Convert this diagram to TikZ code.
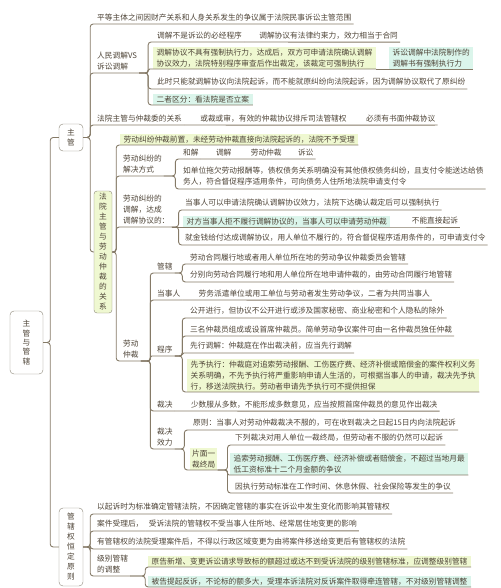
\documentclass[tikz,border=0pt]{standalone}
\usepackage{fontspec}
\setmainfont{Noto Sans CJK SC}
\usepackage{tikz}
\usetikzlibrary{positioning}
\definecolor{linegray}{HTML}{857A67}
\definecolor{inkbrown}{HTML}{4E4437}
\definecolor{softlime}{HTML}{EFF8D1}
\definecolor{softcyan}{HTML}{DBF5EB}
\definecolor{boxedge}{HTML}{8A8577}

\begin{document}
\begin{tikzpicture}[x=1pt, y=-1pt,
  every node/.style={font=\fontsize{7.7}{11}\selectfont, text=inkbrown},
  topic/.style={anchor=south west, inner xsep=2pt, inner ysep=3pt, align=left},
  limebox/.style={anchor=south west, fill=softlime, inner xsep=3.5pt, inner ysep=1.8pt, align=left},
  cyanbox/.style={limebox, fill=softcyan},
  stem/.style={draw=boxedge, fill=white, rounded corners=4pt, inner sep=0pt, align=center, font=\fontsize{7.7}{10}\selectfont},
  link/.style={draw=linegray, line width=0.9pt, rounded corners=3pt}]
  \useasboundingbox (0,0) rectangle (500,588);

  % root and the two main branches
  \node[stem, minimum width=33pt, minimum height=63pt, font=\fontsize{7.7}{9.3}\selectfont] (root) at (26.5,342.5) {主\\管\\与\\管\\辖};
  \node[stem, minimum width=24pt, minimum height=27pt] (zg) at (71,137.5) {主\\管};
  \node[stem, minimum width=24pt, minimum height=78pt] (gx) at (71,547) {管\\辖\\权\\恒\\定\\原\\则};

  % 主管
  \node[topic] (civil) at (95,24) {平等主体之间因财产关系和人身关系发生的争议属于法院民事诉讼主管范围};
  \node[topic] (med) at (95,73) {人民调解VS\\诉讼调解};
  \node[topic] (med1) at (155,42) {调解不是诉讼的必经程序};
  \node[topic, base right=13pt of med1] (med1b) {调解协议有法律约束力，效力相当于合同};
  \node[limebox] (med2) at (153,69) {调解协议不具有强制执行力，达成后，双方可申请法院确认调解\\协议效力，法院特别程序审查后作出裁定，该裁定可强制执行};
  \node[cyanbox] (med2b) at ([xshift=13pt]med2.south east) {诉讼调解中法院制作的\\调解书有强制执行力};
  \node[topic] (med3) at (155,89) {此时只能就调解协议向法院起诉，而不能就原纠纷向法院起诉，因为调解协议取代了原纠纷};
  \node[cyanbox] (med4) at (153,105) {二者区分：看法院是否立案};
  \node[topic] (arb) at (95,125) {法院主管与仲裁委的关系};
  \node[topic, base right=14pt of arb] (arb2) {或裁或审，有效的仲裁协议排斥司法管辖权};
  \node[topic, base right=15pt of arb2] (arb3) {必须有书面仲裁协议};
  \node[stem, fill=softlime, rounded corners=3pt, minimum width=18pt, minimum height=122pt] (labor) at (103,252) {法\\院\\主\\管\\与\\劳\\动\\仲\\裁\\的\\关\\系};

  % 劳动仲裁
  \node[limebox] (pre) at (120,145) {劳动纠纷仲裁前置，未经劳动仲裁直接向法院起诉的，法院不予受理};
  \node[topic] (way) at (121,176) {劳动纠纷的\\解决方式};
  \node[topic] (way1) at (181,159) {和解};
  \node[topic, base right=13pt of way1] (way2) {调解};
  \node[topic, base right=15pt of way2] (way3) {劳动仲裁};
  \node[topic, base right=12pt of way3] (way4) {诉讼};
  \node[topic] (way5) at (181,189) {如单位拖欠劳动报酬等，债权债务关系明确没有其他债权债务纠纷，且支付令能送达给债\\务人，符合督促程序适用条件，可向债务人住所地法院申请支付令};
  \node[topic] (medi) at (121,227) {劳动纠纷的\\调解，达成\\调解协议的：};
  \node[topic] (deal1) at (183,210) {当事人可以申请法院确认调解协议效力，法院下达确认裁定后可以强制执行};
  \node[cyanbox] (deal2) at (183,227) {对方当事人拒不履行调解协议的，当事人可以申请劳动仲裁};
  \node[topic] (deal2b) at ([xshift=19pt]deal2.south east) {不能直接起诉};
  \node[topic] (deal3) at (183,245) {就金钱给付达成调解协议，用人单位不履行的，符合督促程序适用条件的，可申请支付令};
  \node[topic] (arbit) at (121,361) {劳动\\仲裁};
  \node[topic] (jur) at (155,273) {管辖};
  \node[topic] (jur1) at (188,264) {劳动合同履行地或者用人单位所在地的劳动争议仲裁委员会管辖};
  \node[topic] (jur2) at (188,282) {分别向劳动合同履行地和用人单位所在地申请仲裁的，由劳动合同履行地管辖};
  \node[topic] (party) at (155,300) {当事人};
  \node[topic, base right=14pt of party] (party2) {劳务派遣单位或用工单位与劳动者发生劳动争议，二者为共同当事人};
  \node[topic] (proc) at (155,356) {程序};
  \node[topic] (proc1) at (188,318) {公开进行，但协议不公开进行或涉及国家秘密、商业秘密和个人隐私的除外};
  \node[topic] (proc2) at (188,336) {三名仲裁员组成或设首席仲裁员。简单劳动争议案件可由一名仲裁员独任仲裁};
  \node[topic] (proc3) at (188,353) {先行调解：仲裁庭在作出裁决前，应当先行调解};
  \node[limebox] (proc4) at (187,392) {先予执行：仲裁庭对追索劳动报酬、工伤医疗费、经济补偿或赔偿金的案件权利义务\\关系明确，不先予执行将严重影响申请人生活的，可根据当事人的申请，裁决先予执\\行，移送法院执行。劳动者申请先予执行可不提供担保};
  \node[topic] (award) at (155,411) {裁决};
  \node[topic, base right=14pt of award] (award2) {少数服从多数，不能形成多数意见，应当按照首席仲裁员的意见作出裁决};
  \node[topic] (eff) at (155,449) {裁决\\效力};
  \node[topic] (eff1) at (191,430) {原则：当事人对劳动仲裁裁决不服的，可在收到裁决之日起15日内向法院起诉};
  \node[limebox, inner xsep=2pt] (final) at (190,470) {片面一\\裁终局};
  \node[topic] (final1) at (233,445) {下列裁决对用人单位一裁终局，但劳动者不服的仍然可以起诉};
  \node[cyanbox] (final2) at (230,475) {追索劳动报酬、工伤医疗费、经济补偿或者赔偿金，不超过当地月最\\低工资标准十二个月金额的争议};
  \node[topic] (final3) at (233,493) {因执行劳动标准在工作时间、休息休假、社会保险等发生的争议};

  % 管辖权恒定原则
  \node[topic] (keep1) at (95,514) {以起诉时为标准确定管辖法院，不因确定管辖的事实在诉讼中发生变化而影响其管辖权};
  \node[topic] (keep2) at (95,531) {案件受理后，};
  \node[topic, base right=1pt of keep2] (keep2b) {受诉法院的管辖权不受当事人住所地、经常居住地变更的影响};
  \node[topic] (keep3) at (95,549) {有管辖权的法院受理案件后，不得以行政区域变更为由将案件移送给变更后有管辖权的法院};
  \node[topic] (level) at (95,576) {级别管辖\\的调整};
  \node[limebox] (level1) at (148,567) {原告新增、变更诉讼请求导致标的额超过或达不到受诉法院的级别管辖标准，应调整级别管辖};
  \node[cyanbox] (level2) at (148,587) {被告提起反诉，不论标的额多大，受理本诉法院对反诉案件取得牵连管辖，不对级别管辖调整};

  % connectors
  \draw[link] (root.east) -- ++(7,0) |- (zg.west);
  \draw[link] (root.east) -- ++(7,0) |- (gx.west);
  \foreach \n in {civil,med,arb}
    \draw[link] (zg.east) -- ++(7,0) |- (\n.south east);
  \draw[link] (zg.east) -- ++(7,0) |- (labor.west);
  \foreach \n in {med1,med3,med4}
    \draw[link] (med.south east) -- ++(9,0) |- (\n.south east);
  \draw[link, rounded corners=1.5pt] (med.south east) -- ++(9,0) |- (med2.south east);
  \draw[link] (med1.south east) -- (med1b.south east);
  \draw[link] (med2.south east) -- (med2b.south east);
  \draw[link] (arb.south east) -- (arb2.south east) -- (arb3.south east);
  \foreach \n in {pre,way,medi,arbit}
    \draw[link] (labor.east) -- ++(4,0) |- (\n.south east);
  \foreach \n in {way1,way5}
    \draw[link] (way.south east) -- ++(11.5,0) |- (\n.south east);
  \draw[link] (way1.south east) -- (way2.south east) -- (way3.south east) -- (way4.south east);
  \foreach \n in {deal1,deal3}
    \draw[link] (medi.south east) -- ++(7,0) |- (\n.south east);
  \draw[link] (medi.south east) -- (deal2.south east) -- (deal2b.south east);
  \foreach \n in {jur,party,award,eff}
    \draw[link] (arbit.south east) -- ++(9.5,0) |- (\n.south east);
  \draw[link, rounded corners=1.5pt] (arbit.south east) -- ++(9.5,0) |- (proc.south east);
  \foreach \n in {jur1,jur2}
    \draw[link] (jur.south east) -- ++(7.5,0) |- (\n.south east);
  \draw[link] (party.south east) -- (party2.south east);
  \foreach \n in {proc1,proc2,proc4}
    \draw[link] (proc.south east) -- ++(7.5,0) |- (\n.south east);
  \draw[link, rounded corners=1.5pt] (proc.south east) -- ++(7.5,0) |- (proc3.south east);
  \draw[link] (award.south east) -- (award2.south east);
  \foreach \n in {eff1,final}
    \draw[link] (eff.south east) -- ++(9.5,0) |- (\n.south east);
  \foreach \n in {final1,final3}
    \draw[link] (final.south east) -- ++(10,0) |- (\n.south east);
  \draw[link, rounded corners=1.5pt] (final.south east) -- ++(10,0) |- (final2.south east);
  \foreach \n in {keep1,keep2,keep3,level}
    \draw[link] (gx.east) -- ++(7,0) |- (\n.south east);
  \draw[link] (keep2.south east) -- (keep2b.south east);
  \foreach \n in {level1,level2}
    \draw[link] (level.south east) -- ++(15,0) |- (\n.south east);
\end{tikzpicture}
\end{document}
